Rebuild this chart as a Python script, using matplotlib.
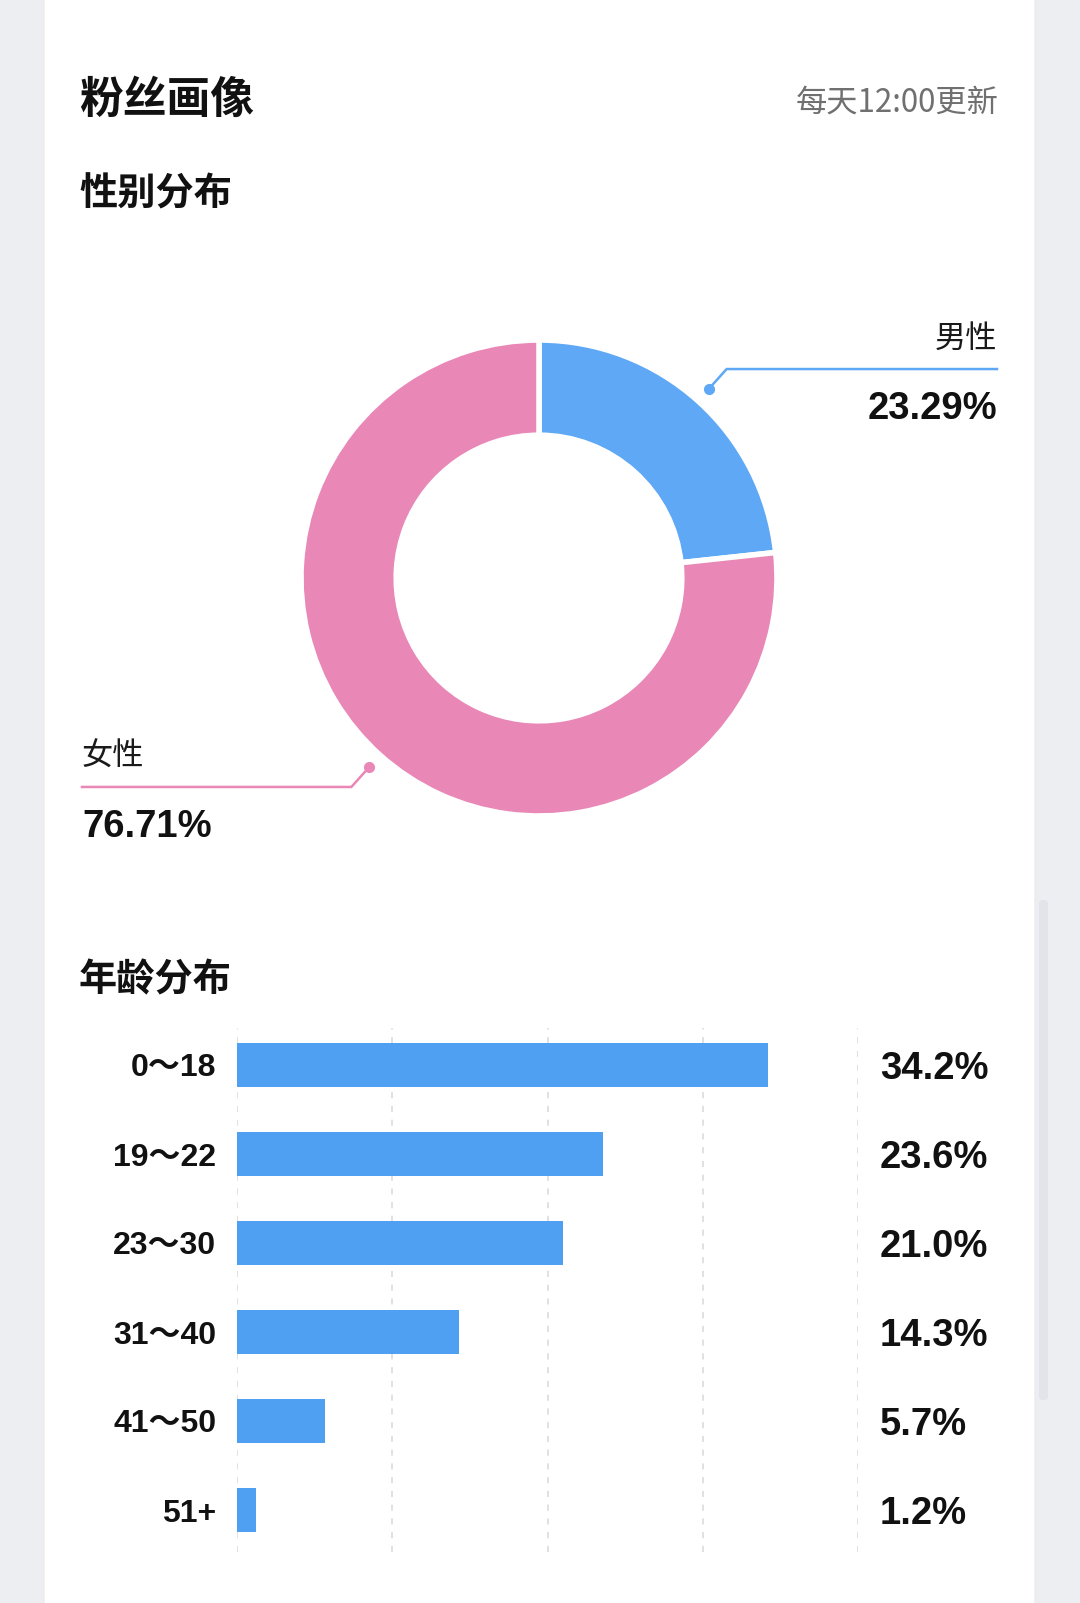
import numpy as np
import matplotlib
matplotlib.use("Agg")
import matplotlib.pyplot as plt
from matplotlib.patches import FancyBboxPatch

plt.rcParams['font.family'] = ['Liberation Sans', 'Noto Sans CJK SC', 'DejaVu Sans']

# ---------------- data ----------------
gender_labels = ['男性', '女性']
gender_values = [23.29, 76.71]
gender_colors = ['#5EA8F6', '#E987B6']

age_labels = ['0～18', '19～22', '23～30', '31～40', '41～50', '51+']
age_values = [34.2, 23.6, 21.0, 14.3, 5.7, 1.2]
age_ticks = [0, 10, 20, 30, 40]

title = '粉丝画像'
update_note = '每天12:00更新'
gender_title = '性别分布'
age_title = '年龄分布'

W, H = 1080, 1603
fig = plt.figure(figsize=(W / 100, H / 100), dpi=100)
fig.patch.set_facecolor('#EDEEF2')

CJK = ['Noto Sans CJK SC', 'DejaVu Sans']
NUM = ['Liberation Sans', 'Noto Sans CJK SC', 'DejaVu Sans']

# background / card axes in pixel coordinates
bg = fig.add_axes([0, 0, 1, 1], zorder=0)
bg.set_xlim(0, W)
bg.set_ylim(H, 0)
bg.axis('off')
card = FancyBboxPatch((44, -40), 991, H + 80,
                      boxstyle='round,pad=0,rounding_size=22',
                      facecolor='white', edgecolor='#E8E9ED', linewidth=0.8)
bg.add_patch(card)
sb = FancyBboxPatch((1039, 900), 9, 500, boxstyle='round,pad=0,rounding_size=4',
                    facecolor='#E3E4E9', edgecolor='none')
bg.add_patch(sb)

bg.text(79, 100, title, family=CJK, fontsize=31.5, fontweight='bold',
        color='#111111', ha='left', va='center')
bg.text(999, 103, update_note, family=CJK, fontsize=22.5,
        color='#707070', ha='right', va='center')
bg.text(79, 194, gender_title, family=CJK, fontsize=27.5, fontweight='bold',
        color='#111111', ha='left', va='center')
bg.text(79, 980, age_title, family=CJK, fontsize=27.5, fontweight='bold',
        color='#111111', ha='left', va='center')

# ---------------- donut ----------------
cx, cy, R = 539, 578, 238
ax = fig.add_axes([(cx - R) / W, 1 - (cy + R) / H, 2 * R / W, 2 * R / H], zorder=2)
wedges, _ = ax.pie(gender_values, colors=gender_colors, startangle=90,
                   counterclock=False, radius=1.0,
                   wedgeprops=dict(width=0.40, edgecolor='white', linewidth=4))
ax.set_xlim(-1, 1)
ax.set_ylim(-1, 1)
ax.set_aspect('equal')
ax.axis('off')

x_right = (997 - cx) / R
x_left = (82 - cx) / R
for w, lab, val, col in zip(wedges, gender_labels, gender_values, gender_colors):
    mid = np.deg2rad((w.theta1 + w.theta2) / 2)
    dx, dy = np.cos(mid), np.sin(mid)
    p0 = (1.067 * dx, 1.067 * dy)
    p1 = (1.18 * dx, 1.18 * dy)
    xend = x_right if dx > 0 else x_left
    ax.plot([p0[0], p1[0], xend], [p0[1], p1[1], p1[1]], color=col,
            lw=1.8, clip_on=False, solid_joinstyle='miter')
    ax.plot([p0[0]], [p0[1]], 'o', color=col, ms=7, clip_on=False)
    ha = 'right' if dx > 0 else 'left'
    ax.text(xend, p1[1] + 0.125, lab, family=CJK, fontsize=22.5, color='#1A1A1A',
            ha=ha, va='center', clip_on=False)
    ax.text(xend, p1[1] - 0.17, f'{val:.2f}%', family=NUM, fontsize=27.5,
            fontweight='bold', color='#111111', ha=ha, va='center', clip_on=False)

# ---------------- bars ----------------
bl, br, bt, bb = 237, 858, 1028, 1552
axb = fig.add_axes([bl / W, 1 - bb / H, (br - bl) / W, (bb - bt) / H], zorder=2)
axb.set_facecolor('none')
ypos = np.arange(len(age_values))
axb.barh(ypos, age_values, height=0.494, color='#4F9FF3', zorder=3)
axb.set_xlim(age_ticks[0], age_ticks[-1])
axb.set_ylim((bb - 1065) / 89, (bt - 1065) / 89)
for t in age_ticks:
    axb.axvline(t, color='#D9D9D9', lw=1.1, ls=(0, (4, 5)), zorder=1)
for s in axb.spines.values():
    s.set_visible(False)
axb.set_xticks([])
axb.set_yticks(ypos)
axb.set_yticklabels(age_labels, family=NUM, fontsize=23, fontweight='bold',
                    color='#111111')
axb.tick_params(axis='y', length=0, pad=15)
xs = (880 - bl) / ((br - bl) / (age_ticks[-1] - age_ticks[0]))
for y, v in zip(ypos, age_values):
    axb.text(xs, y + 0.05, f'{v:.1f}%', family=NUM, fontsize=27.5, fontweight='bold',
             color='#111111', ha='left', va='center', clip_on=False)

fig.savefig('out.png', dpi=100, facecolor=fig.get_facecolor())
